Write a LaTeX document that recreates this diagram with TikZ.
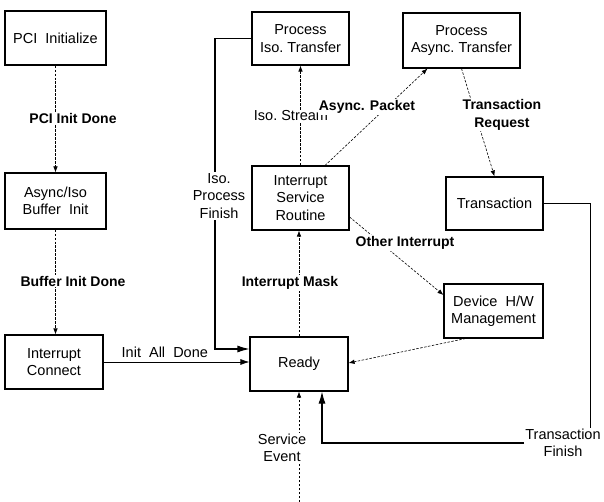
\documentclass[tikz,border=0pt]{standalone}
\usepackage{fontspec}
\setmainfont{Liberation Sans}
\usetikzlibrary{arrows.meta}

\begin{document}
\begin{tikzpicture}[x=1bp, y=-1bp,
        font=\fontsize{14.5bp}{17.5bp}\selectfont,
        state/.style={rectangle, draw, line width=1.1pt, align=center, inner sep=2pt},
        sig/.style={dash pattern=on 2.5pt off 1.5pt, line width=0.6pt, -{Latex[length=6bp, width=4.5bp]}},
        flow/.style={line width=0.8pt, -{Latex[length=9bp, width=6bp]}},
        bigflow/.style={line width=1.1pt, -{Latex[length=12bp, width=7bp]}},
        lbl/.style={fill=white, align=center, inner sep=1pt},
        blbl/.style={lbl, font=\fontsize{14bp}{17.5bp}\selectfont\bfseries}]
        \useasboundingbox (0,0) rectangle (604,502);

        % Nodes
        \node[state, minimum width=101bp, minimum height=54bp] (pciinit) at (55.5,38) {PCI\ \ Initialize};
        \node[state, minimum width=101bp, minimum height=56bp] (bufinit) at (55.5,201) {Async/Iso\\Buffer\ \ Init};
        \node[state, minimum width=98bp, minimum height=54bp] (intconn) at (54,362) {Interrupt\\Connect};
        \node[state, minimum width=98bp, minimum height=54bp] (ready) at (299,364) {Ready};
        \node[state, minimum width=97bp, minimum height=53bp] (isotr) at (300.5,38.5) {Process\\Iso.\ Transfer};
        \node[state, minimum width=97bp, minimum height=64bp] (isr) at (300.5,198) {Interrupt\\Service\\Routine};
        \node[state, minimum width=117bp, minimum height=55bp] (asynctr) at (461.5,40.5) {Process\\Async.\ Transfer};
        \node[state, minimum width=97bp, minimum height=53bp] (trans) at (494.5,203.5) {Transaction};
        \node[state, minimum width=99bp, minimum height=54bp] (devhw) at (493.5,311) {Device\ \ H/W\\Management};

        % Bends and free ends
        \coordinate (isobend) at (215,196);
        \coordinate (svcin) at (298,502);
        \node[lbl] (tfin) at (563,443) {Transaction\\Finish};

        % Lines
        \draw[sig] (pciinit) -- (bufinit);
        \node[blbl] (pcidone) at (73,118) {PCI Init Done};
        \draw[sig] (bufinit.south) -- (bufinit.south |- intconn.north);
        \node[blbl] (bufdone) at (73,281) {Buffer Init Done};
        \draw[flow] (intconn.east) -- (intconn.east -| ready.west) node[pos=0.42, above=1bp] (alldone) {Init\ \ All\ \ Done};
        \draw[bigflow] (isotr.west) -| (isobend) |- ([yshift=15bp]ready.west);
        \node[lbl] (isofin) at ([xshift=4bp]isobend) {Iso.\\Process\\Finish};
        \draw[sig] (isr) -- (isotr);
        \node[lbl] (isostream) at (291,116) {Iso.\ Stream};
        \draw[sig] (ready.north) -- (ready.north |- isr.south);
        \node[blbl] (intmask) at (290,283) {Interrupt Mask};
        \draw[sig] (isr.53) -- ([xshift=-34bp]asynctr.south);
        \node[blbl] (asyncpkt) at (367,107) {Async. Packet};
        \draw[sig] (asynctr.south) -- (trans.north);
        \node[blbl] (transreq) at (502,115) {Transaction\\Request};
        \draw[sig] ([yshift=-19bp]isr.east) -- ([yshift=16bp]devhw.west);
        \node[blbl] (otherint) at (405,243) {Other Interrupt};
        \draw[sig] ([xshift=-28bp]devhw.south) -- ([yshift=1bp]ready.east);
        \draw[line width=0.8pt] (trans.east) -| ([xshift=27bp]tfin.north);
        \draw[bigflow] (tfin.west) -| ([xshift=23bp]ready.south);
        \draw[sig] (ready.south |- svcin) -- (ready.south);
        \node[lbl] (svcevent) at (282,448) {Service\\Event};
\end{tikzpicture}
\end{document}
